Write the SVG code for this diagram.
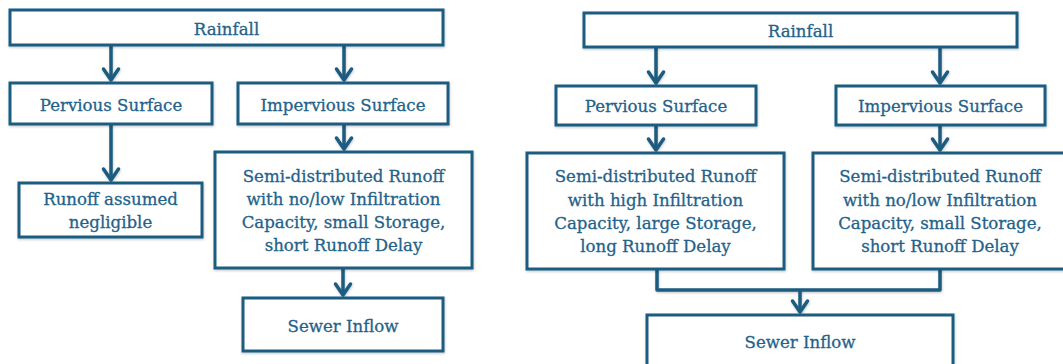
<svg xmlns="http://www.w3.org/2000/svg" width="1063" height="364" viewBox="0 0 1063 364">
<style>
.box{fill:#ffffff;stroke:#1c5c80;stroke-width:3;filter:url(#sh)}
.t{font-family:"DejaVu Serif","Liberation Serif",serif;font-size:16.6px;fill:#23628a;stroke:#23628a;stroke-width:0.3;text-anchor:middle}
.c{fill:none;stroke:#1c5c80;stroke-width:3.5;stroke-linejoin:round;filter:url(#sh)}
</style>
<defs>
<filter id="sh" filterUnits="userSpaceOnUse" x="0" y="0" width="1063" height="400">
<feDropShadow dx="0.5" dy="1.2" stdDeviation="1.2" flood-color="#000000" flood-opacity="0.22"/>
</filter>
<marker id="ah" markerUnits="userSpaceOnUse" markerWidth="20" markerHeight="20" viewBox="-14 -10 16 20" refX="0" refY="0" orient="auto" overflow="visible">
<path d="M-11,-7.5 L0,0 L-11,7.5" fill="none" stroke="#1c5c80" stroke-width="3.5" stroke-linejoin="round" stroke-linecap="round"/>
</marker>
</defs>

<g id="connectors">
<path class="c" d="M111,45 V80" marker-end="url(#ah)"/>
<path class="c" d="M344,45 V80" marker-end="url(#ah)"/>
<path class="c" d="M111,124 V180" marker-end="url(#ah)"/>
<path class="c" d="M344,124 V149" marker-end="url(#ah)"/>
<path class="c" d="M343,268 V295" marker-end="url(#ah)"/>
<path class="c" d="M656,47 V83" marker-end="url(#ah)"/>
<path class="c" d="M940,47 V83" marker-end="url(#ah)"/>
<path class="c" d="M656,125 V150" marker-end="url(#ah)"/>
<path class="c" d="M940,125 V150" marker-end="url(#ah)"/>
<path class="c" d="M657,269 V290 H940 V269"/>
<path class="c" d="M800,290 V312" marker-end="url(#ah)"/>
</g>

<g id="rainfall-left">
<rect class="box" x="10" y="10" width="433" height="35"/>
<text class="t" x="226.5" y="34.5">Rainfall</text>
</g>
<g id="pervious-left">
<rect class="box" x="10" y="83" width="202" height="41"/>
<text class="t" x="111" y="110.5">Pervious Surface</text>
</g>
<g id="impervious-left">
<rect class="box" x="238" y="83" width="210" height="41"/>
<text class="t" x="343" y="110.5">Impervious Surface</text>
</g>
<g id="negligible-left">
<rect class="box" x="19" y="183" width="183" height="54"/>
<text class="t" x="110.5" y="204.5">Runoff assumed</text>
<text class="t" x="110.5" y="227.8">negligible</text>
</g>
<g id="semi-left">
<rect class="box" x="215" y="152" width="257" height="116"/>
<text class="t" x="343.5" y="181.5">Semi-distributed Runoff</text>
<text class="t" x="343.5" y="204.8">with no/low Infiltration</text>
<text class="t" x="343.5" y="228.1">Capacity, small Storage,</text>
<text class="t" x="343.5" y="251.4">short Runoff Delay</text>
</g>
<g id="sewer-left">
<rect class="box" x="243" y="298" width="200" height="53"/>
<text class="t" x="343" y="331.5">Sewer Inflow</text>
</g>

<g id="rainfall-right">
<rect class="box" x="584" y="13" width="433" height="34"/>
<text class="t" x="800.5" y="36.5">Rainfall</text>
</g>
<g id="pervious-right">
<rect class="box" x="556" y="86" width="200" height="39"/>
<text class="t" x="656" y="112">Pervious Surface</text>
</g>
<g id="impervious-right">
<rect class="box" x="836" y="86" width="209" height="39"/>
<text class="t" x="940.5" y="112">Impervious Surface</text>
</g>
<g id="semi-high-right">
<rect class="box" x="527" y="153" width="257" height="116"/>
<text class="t" x="655.5" y="182.3">Semi-distributed Runoff</text>
<text class="t" x="655.5" y="205.6">with high Infiltration</text>
<text class="t" x="655.5" y="228.9">Capacity, large Storage,</text>
<text class="t" x="655.5" y="252.2">long Runoff Delay</text>
</g>
<g id="semi-low-right">
<rect class="box" x="813" y="153" width="254" height="116"/>
<text class="t" x="940" y="182.3">Semi-distributed Runoff</text>
<text class="t" x="940" y="205.6">with no/low Infiltration</text>
<text class="t" x="940" y="228.9">Capacity, small Storage,</text>
<text class="t" x="940" y="252.2">short Runoff Delay</text>
</g>
<g id="sewer-right">
<rect class="box" x="647" y="315" width="306" height="60"/>
<text class="t" x="800" y="348">Sewer Inflow</text>
</g>
</svg>
